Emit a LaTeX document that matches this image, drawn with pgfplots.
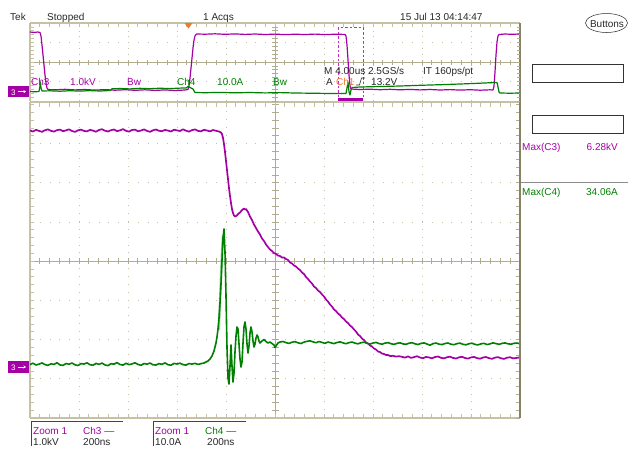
\documentclass[border=0pt]{standalone}
\usepackage{pgfplots}
\pgfplotsset{compat=1.18}
\usetikzlibrary{arrows.meta}
\usepackage{fontspec}
\setmainfont{Liberation Sans}
\definecolor{grat}{RGB}{198,192,165}
\definecolor{gratc}{RGB}{178,172,142}
\definecolor{gratb}{RGB}{135,130,100}
\definecolor{tpurple}{RGB}{165,0,165}
\definecolor{tmag}{RGB}{200,40,200}
\definecolor{tgreen}{RGB}{0,128,0}
\definecolor{tglow}{RGB}{150,215,150}
\definecolor{torange}{RGB}{240,120,40}
\definecolor{tdark}{RGB}{40,40,40}
\begin{document}
\begin{tikzpicture}
\fill[white, use as bounding box] (0pt,0pt) rectangle (628pt,-451pt);
\begin{scope}[x=1pt,y=-1pt]
% ---------- lower (zoom) window graticule ----------
\foreach \i in {1,2,3,4,6,7,8,9} {\draw[grat, line width=0.9pt, dash pattern=on 0.9pt off 6.94pt] ({30+49*\i},418) -- ({30+49*\i},102);}
\foreach \k in {1,2,3,5,6,7} {\draw[grat, line width=0.9pt, dash pattern=on 0.9pt off 8.9pt] (30,{418-39.2*\k}) -- (520,{418-39.2*\k});}
\draw[gratc, line width=0.8pt] (275,102) -- (275,418);
\draw[gratc, line width=0.8pt] (30,261.2) -- (520,261.2);
\foreach \j in {0,...,40} {\draw[gratc, line width=0.8pt] (271.5,{418-7.84*\j}) -- (278.5,{418-7.84*\j});}
\foreach \j in {0,...,50} {\draw[gratc, line width=0.8pt] ({30+9.8*\j},258) -- ({30+9.8*\j},264.4);}
\draw[grat, line width=1.2pt] (30,102) -- (30,418);
\foreach \j in {0,...,40} {\draw[grat, line width=0.8pt] (30,{418-7.84*\j}) -- (34,{418-7.84*\j});}
\draw[grat, line width=1.2pt] (30,102) -- (520,102);
\foreach \j in {0,...,50} {\draw[grat, line width=0.8pt] ({30+9.8*\j},102) -- ({30+9.8*\j},107);}
\draw[grat, line width=1.2pt] (30,418) -- (520,418);
\foreach \j in {0,...,50} {\draw[grat, line width=0.8pt] ({30+9.8*\j},418) -- ({30+9.8*\j},413.5);}
\foreach \j in {0,...,40} {\draw[gratc, line width=0.8pt] (520,{418-7.84*\j}) -- (515.5,{418-7.84*\j});}
% ---------- upper (main) window graticule ----------
\foreach \i in {1,2,3,4,6,7,8,9} {\draw[grat, line width=0.9pt, dash pattern=on 0.9pt off 4.9pt] ({30+49*\i},101) -- ({30+49*\i},23);}
\foreach \yy in {42.5,81.5} {\draw[grat, line width=0.9pt, dash pattern=on 0.9pt off 8.9pt] (30,\yy) -- (520,\yy);}
\draw[gratc, line width=0.8pt] (275,23) -- (275,101);
\draw[gratc, line width=0.8pt] (30,62) -- (520,62);
\foreach \j in {0,...,19} {\draw[gratc, line width=0.7pt] (272,{101-3.9*\j}) -- (278,{101-3.9*\j});}
\foreach \j in {0,...,50} {\draw[gratc, line width=0.7pt] ({30+9.8*\j},59.5) -- ({30+9.8*\j},64.5);}
\draw[grat, line width=1.2pt] (30,23) -- (30,101);
\foreach \j in {0,...,19} {\draw[grat, line width=0.7pt] (30,{101-3.9*\j}) -- (33.5,{101-3.9*\j});}
\draw[grat, line width=1.2pt] (30,23) -- (520,23);
\foreach \j in {0,...,50} {\draw[grat, line width=0.8pt] ({30+9.8*\j},23) -- ({30+9.8*\j},27);}
\draw[gratb, line width=1.3pt] (520,23) -- (520,418);
\foreach \j in {0,...,19} {\draw[gratc, line width=0.7pt] (520,{101-3.9*\j}) -- (516.5,{101-3.9*\j});}
\end{scope}

\begin{axis}[at={(0pt,0pt)}, anchor=north west, scale only axis,
  width=628pt, height=451pt, xmin=0, xmax=628, ymin=0, ymax=451,
  y dir=reverse, hide axis, clip=false]
% ---- upper window: Ch3 (purple) ----
\addplot[tpurple, line width=1.2pt, line join=round] coordinates {
(30,32)(34,32.4)(38,32)(40,32.5)(41,36)(42,45)(43,55)(44,65)(45,75)(46,83)(47,88)(48,89.5)
(55,89.8)(65,89.3)(75,89.9)(85,89.5)(95,90.1)(105,89.6)(115,90.2)(125,89.7)(135,90.3)(145,89.8)
(155,90.4)(165,89.9)(175,90.5)(185,90)(188,89.5)(189,86)(190,78)(191,68)(192,58)(193,48)(194,40)
(195,36)(196,34.5)(197,34)(205,34.2)(215,33.8)(225,34.3)(235,33.9)(245,34.4)(255,34)(265,34.5)
(275,34.1)(285,34.6)(295,34.2)(305,34.5)(315,34.1)(325,34.6)(335,34.2)(345,34.4)(346,36)(347,45)
(348,60)(349,75)(350,86)(351,89)(360,89.5)(370,89.2)(380,89.7)(390,89.3)(400,89.8)(410,89.4)
(420,89.9)(430,89.5)(440,90)(450,89.6)(460,90.1)(470,89.7)(480,90.2)(490,89.8)(493,90)(494,86)
(495,72)(496,55)(497,42)(498,36)(499,34.5)(505,34)(512,34.3)(519,34)};
% ---- upper window: Ch4 (green) ----
\addplot[tgreen, line width=1.2pt, line join=round] coordinates {
(30,91.5)(35,91.8)(39,91.5)(40,86)(40.5,82)(41,88)(42,91)(50,90.8)(60,91.2)(70,90.7)(80,91.1)
(90,90.6)(100,91)(110,90.5)(112,88.8)(120,88.5)(130,88.9)(140,88.3)(150,88.7)(160,88.2)(170,88.6)
(180,88.1)(186,88)(188,86.5)(190,87.5)(193,89)(195,92.5)(205,92.7)(220,92.4)(235,92.8)(250,92.5)
(265,92.9)(280,92.6)(295,93)(310,93.2)(325,93.4)(340,93.6)(346,93.5)(347,88)(348,82)(349,92)
(350,95)(351,90)(352,87.5)(360,87)(380,86.5)(400,86)(420,85.3)(440,84.7)(460,84)(480,83.2)
(495,82.5)(497,82.5)(498,87)(499,92)(500,93)(510,93.2)(519,93)};
% ---- lower window: Ch3 (purple) ----
\addplot[tpurple, line width=1.7pt, line join=round] coordinates {
(30,130.5)(33,131.5)(36,129.8)(39,130.9)(42,131.8)(45,130.2)(48,129.4)(51,130.8)(54,131.6)(57,130.1)
(60,129.6)(63,131.2)(66,130.4)(69,129.3)(72,131.0)(75,131.9)(78,130.3)(81,129.7)(84,130.9)(87,131.4)
(90,129.8)(93,130.6)(96,131.7)(99,130.0)(102,129.2)(105,130.7)(108,131.5)(111,130.2)(114,129.5)(117,131.1)
(120,130.4)(123,129.1)(126,130.8)(129,131.6)(132,130.0)(135,129.6)(138,131.3)(141,130.5)(144,129.4)(147,130.9)
(150,131.8)(153,130.3)(156,129.5)(159,130.8)(162,131.2)(165,129.9)(168,130.6)(171,131.5)(174,129.7)(177,130.4)
(180,131.0)(183,129.3)(186,130.7)(189,131.6)(192,130.1)(195,129.4)(198,130.9)(201,131.3)(204,129.8)(207,130.5)
(210,131.4)(213,130.0)(216,130.8)(219,131.5)(221,132.5)
(222,134)(223,138)(224,144)(225,152)(226,161)(227,170)(228,179)(229,188)(230,196)(231,203)(232,209)
(233,213)(234,215.5)(235,216.5)(236,216)(237,215.5)(238,214)(240,212.5)(242,210)(244,208.5)(245,209.5)
(246,209)(248,212)(250,216.5)(252,220)(254,224.5)(256,228)(258,231.5)(260,234.5)(262,238.5)(264,241)
(266,244.5)(268,247)(270,249.5)(272,251)(274,253)(276,254)(278,255.5)(280,256)(282,257.5)(284,257.5)
(286,259)(288,260)(290,262.5)(292,263.5)(294,265.5)(296,266.5)(298,268.5)(300,270)(302,272.5)(304,274)
(306,277)(308,279)(310,281.5)(312,283.5)(314,286.5)(316,288)(318,290.5)(320,292)(322,294.5)(324,296.5)
(326,299.5)(328,301.5)(330,304.5)(332,306.5)(334,309.5)(336,311)(338,313.5)(340,315)(342,317.5)(344,319)
(346,321.5)(348,323)(350,325.5)(352,327)(354,329.5)(356,331.5)(358,334.5)(360,336)(362,338.5)(364,340)
(366,342.5)(368,343.5)(370,345.5)(372,346.5)(374,348.5)(376,349.5)(378,351.5)(380,352)(382,353.5)(384,354)
(386,355)(388,355)(390,356)(393,355.8)(396,356.6)(399,356.2)
(402,356.8)(405,357.6)(408,356.4)(411,357.9)(414,357.1)(417,356.2)(420,357.5)(423,358.2)(426,356.9)(429,357.4)
(432,358.3)(435,357.0)(438,356.5)(441,357.8)(444,358.4)(447,357.2)(450,356.7)(453,357.9)(456,358.5)(459,357.3)
(462,356.8)(465,358.0)(468,358.6)(471,357.4)(474,356.9)(477,358.1)(480,358.7)(483,357.5)(486,357.0)(489,358.2)
(492,358.8)(495,357.6)(498,357.1)(501,358.3)(504,358.9)(507,357.7)(510,357.2)(513,358.4)(516,358.0)(519,357.5)};
% ---- lower window: Ch4 afterglow on the rising edge ----
\addplot[tglow, line width=2.2pt] coordinates {(219,330)(220,300)(221,275)(222,250)(223,235)};
% ---- lower window: Ch4 (green) ----
\addplot[tgreen, line width=1.6pt, line join=round] coordinates {
(30,364.5)(33,363.2)(36,365.0)(39,364.1)(42,362.9)(45,364.6)(48,365.3)(51,363.8)(54,364.4)(57,362.7)
(60,364.9)(63,365.4)(66,363.5)(69,364.2)(72,363.0)(75,364.8)(78,365.5)(81,363.6)(84,364.0)(87,362.8)
(90,364.7)(93,365.2)(96,363.4)(99,364.3)(102,363.1)(105,364.9)(108,365.6)(111,363.7)(114,364.1)(117,362.6)
(120,364.5)(123,365.1)(126,363.3)(129,364.6)(132,363.9)(135,362.8)(138,364.4)(141,365.3)(144,363.5)(147,364.2)
(150,363.0)(153,364.8)(156,365.0)(159,363.6)(162,364.3)(165,362.9)(168,364.7)(171,365.2)(174,363.4)(177,364.0)
(180,363.2)(183,364.6)(186,365.1)(189,363.5)(192,364.1)(195,363.3)(198,364.4)(201,363.6)(204,363.0)
(206,362)(208,361)(210,359)(212,356)(214,351)(215,347)(216,343)(217,337)(218,329)(219,318)(220,303)
(221,284)(222,260)(223,238)(224,229)(225,252)(226,296)(227,348)(228,378)(229,384)(230,366)(231,345)
(232,366)(233,382)(234,373)(235,352)(236,336)(237,327)(238,329)(239,344)(240,359)(241,367)(242,362)
(243,343)(244,327)(245,322)(246,329)(247,344)(248,353)(249,346)(250,333)(251,327)(252,332)(253,341)
(254,347)(255,344)(256,338)(257,335)(258,337)(259,341)(260,343)(262,341)(264,339.5)(266,341.5)(268,343)
(270,342)(272,343.5)(274,345)(275,347.5)(276,346)(278,343)(280,342)
(283,341.5)(286,342.6)(289,343.4)(292,342.2)(295,341.6)(298,342.8)(301,343.5)(304,342.1)(307,341.3)(310,340.8)
(313,341.9)(316,342.7)(319,341.5)(322,342.4)(325,343.3)(328,342.0)(331,342.8)(334,343.6)(337,342.5)(340,341.8)
(343,342.9)(346,343.7)(349,342.6)(352,342.0)(355,343.1)(358,343.8)(361,342.7)(364,342.2)(367,343.3)(370,344.0)
(373,343.0)(376,342.4)(379,343.5)(382,344.2)(385,343.1)(388,342.6)(391,343.7)(394,344.4)(397,343.3)(400,342.8)
(403,343.9)(406,344.3)(409,343.2)(412,342.7)(415,343.8)(418,344.5)(421,343.4)(424,342.9)(427,344.0)(430,345.2)
(433,343.6)(436,343.0)(439,344.1)(442,344.6)(445,343.5)(448,343.0)(451,344.2)(454,344.7)(457,343.6)(460,343.1)
(463,344.3)(466,344.8)(469,343.7)(472,343.2)(475,344.4)(478,344.9)(481,343.8)(484,343.3)(487,344.5)(490,343.9)
(493,342.8)(496,343.6)(499,344.3)(502,343.4)(505,342.9)(508,343.8)(511,344.2)(514,343.3)(517,343.0)(519,343.6)};
\end{axis}

\begin{scope}[x=1pt,y=-1pt, every node/.style={inner sep=0pt, anchor=base west, font=\fontsize{10}{12}\selectfont}]
% top status line
\node[text=tdark] at (10,20) {Tek};
\node[text=tdark] at (47,20) {Stopped};
\node[text=tdark] at (203,20) {1 Acqs};
\node[text=tdark] at (400,20) {15 Jul 13 04:14:47};
\fill[torange] (184.5,23) -- (192.5,23) -- (188.5,28.5) -- cycle;
% zoom region marker
\draw[tmag, line width=0.9pt, dash pattern=on 2.5pt off 2pt] (338,97) -- (338,27.5) -- (363,27.5) -- (363,97);
\fill[tpurple] (338,97.5) rectangle (363,101);
% channel readouts in upper window
\node[text=tpurple] at (31,85.5) {Ch3};
\node[text=tpurple] at (70,85.5) {1.0kV};
\node[text=tpurple] at (127,85.5) {Bw};
\node[text=tgreen] at (177,85.5) {Ch4};
\node[text=tgreen] at (217,85.5) {10.0A};
\node[text=tgreen] at (273,85.5) {Bw};
\node[text=tdark] at (324,74) {M 4.00us 2.5GS/s};
\node[text=tdark] at (423,74) {IT 160ps/pt};
\node[text=tdark] at (326,85.5) {A};
\node[text=torange] at (336,85.5) {Ch1};
\draw[tdark, line width=0.6pt] (356,85) -- (359.5,85) -- (361.5,78) -- (365,78);
\node[text=tdark] at (371,85.5) {13.2V};
% ground markers
\fill[tpurple] (8,86) rectangle (29,97.3);
\node[text=white, font=\fontsize{8}{9}\selectfont] at (11,95) {3};
\draw[white, line width=0.7pt, -{Stealth[length=2.5pt,width=3pt]}] (18,91.6) -- (26,91.6);
\fill[tpurple] (8,361) rectangle (29,373);
\node[text=white, font=\fontsize{8}{9}\selectfont] at (11,370.3) {3};
\draw[white, line width=0.7pt, -{Stealth[length=2.5pt,width=3pt]}] (18,367) -- (26,367);
% right panel
\draw[tdark, line width=0.5pt] (606.5,23) ellipse [x radius=21, y radius=9.5];
\node[text=tdark, anchor=base] at (607,27.5) {Buttons};
\draw[black!80, line width=1pt] (532,64) rectangle (623,82);
\draw[black!80, line width=1pt] (532,115) rectangle (623,133);
\node[text=tpurple] at (522,150) {Max(C3)};
\node[text=tpurple, anchor=base east] at (618,150) {6.28kV};
\draw[black!45, line width=1pt] (521,182.3) -- (628,182.3);
\node[text=tgreen] at (522,195.5) {Max(C4)};
\node[text=tgreen, anchor=base east] at (618,195.5) {34.06A};
% bottom zoom readouts
\draw[tpurple, line width=0.9pt] (31,446) -- (31,421.5) -- (123,421.5);
\node[text=tpurple] at (33,434) {Zoom 1};
\node[text=tpurple] at (83,434) {Ch3 ---};
\node[text=tdark] at (33,445.5) {1.0kV};
\node[text=tdark] at (83,445.5) {200ns};
\draw[tpurple, line width=0.9pt] (153,446) -- (153,421.5) -- (246,421.5);
\node[text=tpurple] at (155,434) {Zoom 1};
\node[text=tgreen] at (205,434) {Ch4 ---};
\node[text=tdark] at (155,445.5) {10.0A};
\node[text=tdark] at (207,445.5) {200ns};
\end{scope}
\end{tikzpicture}
\end{document}
